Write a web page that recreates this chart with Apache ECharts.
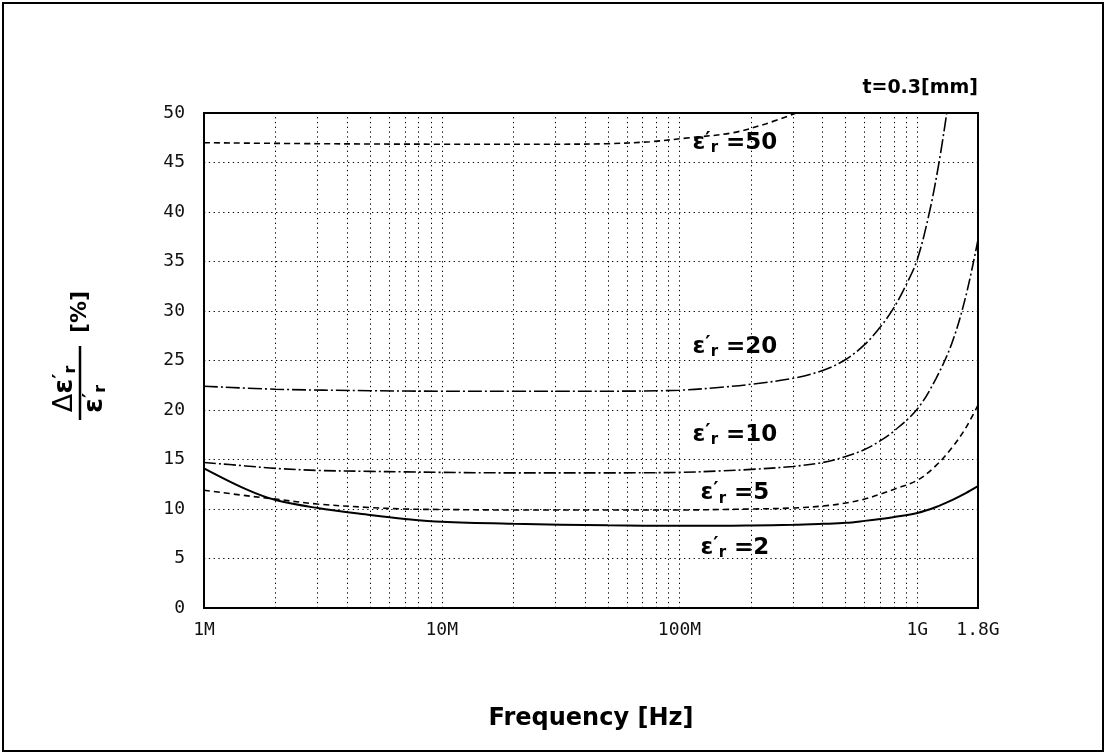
<!DOCTYPE html>
<html><head><meta charset="utf-8">
<script src="https://cdn.jsdelivr.net/npm/echarts@6/dist/echarts.min.js"></script>
<style>html,body{margin:0;padding:0;background:#fff}#c{width:1107px;height:755px}</style>
</head><body><div id="c"></div>
<script>
// ---- data ----
const xTickValues = [1e6, 1e7, 1e8, 1e9, 1.8e9];
const xTickLabels = ['1M', '10M', '100M', '1G', '1.8G'];
const gridFreqs = [2e6,3e6,4e6,5e6,6e6,7e6,8e6,9e6,1e7,2e7,3e7,4e7,5e7,6e7,7e7,8e7,9e7,1e8,2e8,3e8,4e8,5e8,6e8,7e8,8e8,9e8,1e9];
const freqA = [1e6,1.5e6,2e6,3e6,5e6,7e6,1e7,2e7,5e7,1e8,1.5e8,2e8,3e8,4e8,5e8,6e8,7e8,8e8,1e9,1.2e9,1.4e9,1.6e9,1.8e9];
const er2  = [14.1,12.0,10.9,10.1,9.4,9.0,8.7,8.5,8.35,8.3,8.3,8.33,8.4,8.5,8.6,8.8,9.0,9.2,9.6,10.2,10.9,11.6,12.3];
const er5  = [11.9,11.35,11.0,10.5,10.15,10.0,9.95,9.9,9.9,9.9,9.95,10.0,10.1,10.3,10.6,11.0,11.5,12.0,12.9,14.4,16.2,18.2,20.5];
const er10 = [14.7,14.35,14.1,13.9,13.8,13.75,13.7,13.65,13.65,13.7,13.85,14.0,14.3,14.7,15.3,16.0,16.9,17.9,20.1,23.2,26.8,31.5,37.2];
const freq20 = [1e6,2e6,5e6,1e7,2e7,5e7,1e8,1.5e8,2e8,3e8,4e8,5e8,6e8,7e8,8e8,9e8,1e9,1.13e9,1.24e9,1.33e9];
const er20 = [22.4,22.1,21.95,21.9,21.9,21.9,22.0,22.3,22.6,23.2,24.0,25.1,26.6,28.4,30.4,32.7,35.2,40.2,45.3,50];
const freq50 = [1e6,3e6,1e7,3e7,5e7,7.5e7,1.1e8,1.67e8,2.3e8,3.1e8];
const er50 = [47.0,46.9,46.85,46.85,46.9,47.1,47.5,48.0,48.9,50];
const curveNames = ['2','5','10','20','50'];
const labelValues = [6.06, 11.6, 17.5, 26.4, 47.0];
const labelFreq = 1.71e8;

const zip = (xs, ys) => xs.map((x, i) => [x, ys[i]]);
const chart = echarts.init(document.getElementById('c'), null, {renderer: 'canvas'});
const bold = 'DejaVu Sans';
const rich = {
  e: {fontFamily: bold, fontWeight: 'bold', fontSize: 23, color: '#000'},
  p: {fontFamily: bold, fontWeight: 'bold', fontSize: 20, color: '#000', padding: [0,0,6,0]},
  s: {fontFamily: bold, fontWeight: 'bold', fontSize: 15, color: '#000', padding: [11,0,0,0]},
  n: {fontFamily: bold, fontWeight: 'bold', fontSize: 23, color: '#000'}
};
function labelPoint(i) {
  return {
    silent: true, symbol: 'circle', symbolSize: 1, itemStyle: {color: 'rgba(0,0,0,0)'},
    label: {show: true, position: 'inside', formatter: '{e|ε}{p|′}{s|r}{n| =' + curveNames[i] + '}', rich: rich},
    data: [{coord: [labelFreq, labelValues[i]]}]
  };
}
const gridDot = {color: '#000', width: 1, type: [1.3, 3.5]};
const base = {type: 'line', showSymbol: false, symbol: 'none', smooth: 0.35, animation: false, z: 3};
const fracRich = {
  d: {fontFamily: bold, fontSize: 27, color: '#000'},
  e: {fontFamily: bold, fontWeight: 'bold', fontSize: 27, color: '#000'},
  p: {fontFamily: bold, fontWeight: 'bold', fontSize: 20, color: '#000', padding: [0,0,8,0]},
  s: {fontFamily: bold, fontWeight: 'bold', fontSize: 16, color: '#000', padding: [12,0,0,0]}
};
const option = {
  backgroundColor: '#fff',
  animation: false,
  grid: {left: 204, right: 129, top: 113, bottom: 147, show: true, borderColor: '#000', borderWidth: 2, backgroundColor: 'rgba(0,0,0,0)', z: 5},
  xAxis: {
    type: 'log', logBase: 10, min: 1e6, max: 1.8e9,
    name: 'Frequency [Hz]', nameLocation: 'middle', nameGap: 99,
    nameTextStyle: {fontFamily: bold, fontWeight: 'bold', fontSize: 24, color: '#000'},
    axisLine: {show: true, lineStyle: {color: '#000', width: 2}},
    axisTick: {show: false},
    splitLine: {show: false},
    axisLabel: {
      customValues: xTickValues, margin: 13,
      fontFamily: 'DejaVu Sans Mono', fontSize: 18, color: '#111',
      formatter: v => { const i = xTickValues.findIndex(t => Math.abs(t - v) / t < 1e-6); return i >= 0 ? xTickLabels[i] : ''; }
    }
  },
  yAxis: {
    type: 'value', min: 0, max: 50, interval: 5,
    axisLine: {show: true, lineStyle: {color: '#000', width: 2}},
    axisTick: {show: false},
    splitLine: {show: true, lineStyle: gridDot},
    axisLabel: {margin: 19, fontFamily: 'DejaVu Sans Mono', fontSize: 18, color: '#111'}
  },
  graphic: [
    {type: 'rect', shape: {x: 3, y: 3, width: 1100, height: 748}, style: {fill: 'none', stroke: '#000', lineWidth: 2}, silent: true},
    {type: 'text', right: 129, top: 79, style: {text: 't=0.3[mm]', fontFamily: bold, fontWeight: 'bold', fontSize: 19, fill: '#000'}},
    {type: 'group', x: 80, y: 383, rotation: Math.PI / 2, children: [
      {type: 'line', shape: {x1: -37, y1: 0, x2: 37, y2: 0}, style: {stroke: '#000', lineWidth: 2.5}},
      {type: 'text', x: -6, y: -1, style: {text: '{d|Δ}{e|ε}{p|′}{s|r}', rich: fracRich, align: 'center', verticalAlign: 'bottom'}},
      {type: 'text', x: -16, y: 1, style: {text: '{e|ε}{p|′}{s|r}', rich: fracRich, align: 'center', verticalAlign: 'top'}},
      {type: 'text', x: 71, y: 0, style: {text: '[%]', fontFamily: bold, fontWeight: 'bold', fontSize: 22, fill: '#000', align: 'center', verticalAlign: 'middle'}}
    ]}
  ],
  series: [
    Object.assign({}, base, {name: 'er2', data: zip(freqA, er2), lineStyle: {color: '#000', width: 2, type: 'solid'},
      markPoint: labelPoint(0),
      markLine: {silent: true, symbol: ['none', 'none'], label: {show: false}, lineStyle: gridDot, animation: false,
        data: gridFreqs.map(v => ({xAxis: v}))}}),
    Object.assign({}, base, {name: 'er5', data: zip(freqA, er5), lineStyle: {color: '#000', width: 1.6, type: [6, 4]}, markPoint: labelPoint(1)}),
    Object.assign({}, base, {name: 'er10', data: zip(freqA, er10), lineStyle: {color: '#000', width: 1.6, type: [12, 3, 2, 3]}, markPoint: labelPoint(2)}),
    Object.assign({}, base, {name: 'er20', data: zip(freq20, er20), lineStyle: {color: '#000', width: 1.6, type: [14, 3, 2, 3]}, markPoint: labelPoint(3)}),
    Object.assign({}, base, {name: 'er50', data: zip(freq50, er50), lineStyle: {color: '#000', width: 1.6, type: [6, 4]}, markPoint: labelPoint(4)})
  ]
};
chart.setOption(option);
</script></body></html>
